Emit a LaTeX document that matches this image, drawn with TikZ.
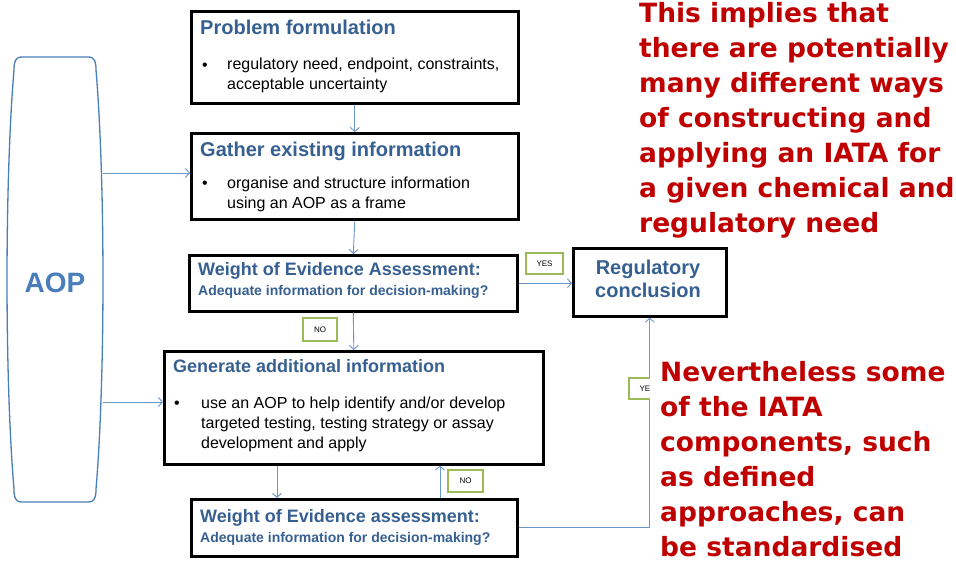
\documentclass[tikz,border=0pt]{standalone}
\usepackage{fontspec}
\setmainfont{Liberation Sans}
\newfontfamily\verd{DejaVu Sans}
\usetikzlibrary{arrows.meta,calc}
\definecolor{tblue}{HTML}{376092}
\definecolor{lblue}{HTML}{4A7EBB}
\definecolor{abl}{HTML}{6C97CC}
\definecolor{grn}{HTML}{9BBB59}
\definecolor{dred}{HTML}{C00000}
\tikzset{
 box/.style={draw=black, line width=2.6pt, fill=white, anchor=north west, inner sep=0},
 ttl/.style={anchor=base west, text=tblue, font=\fontsize{18}{20}\selectfont\bfseries, inner sep=0},
 bigttl/.style={anchor=base west, text=tblue, font=\fontsize{20}{22}\selectfont\bfseries, inner sep=0},
 sub/.style={anchor=base west, text=tblue, font=\fontsize{14}{16}\selectfont\bfseries, inner sep=0},
 bul/.style={anchor=base west, font=\fontsize{16}{20}\selectfont, inner sep=0},
 arr/.style={draw=abl, line width=0.9pt, -{Straight Barb[length=4pt,width=9pt]}},
 lbl/.style={draw=grn, line width=1.5pt, fill=white, font=\fontsize{8}{9}\selectfont, inner sep=0},
 redtxt/.style={text=dred, font=\verd\bfseries\fontsize{26.5}{35}\selectfont, align=left, anchor=north west, inner sep=0},
}
\begin{document}
\begin{tikzpicture}[x=1pt,y=-1pt]
\useasboundingbox[fill=white] (0,0) rectangle (956,569);
% AOP shape
\draw[draw=lblue, line width=1.3pt, fill=white]
  (22,57) -- (88,57) .. controls (95,57) and (96,62) .. (96,70)
  .. controls (105.3,180) and (105.3,380) .. (96,489)
  .. controls (96,497) and (95,502) .. (88,502) -- (22,502)
  .. controls (15,502) and (14,497) .. (14,489)
  .. controls (4.7,380) and (4.7,180) .. (14,70)
  .. controls (14,62) and (15,57) .. (22,57) -- cycle;
\node[text=lblue, font=\fontsize{28}{30}\selectfont\bfseries] (aop) at (55,283) {AOP};
\coordinate (aopA) at (103,173);
\coordinate (aopB) at (103,402);

% boxes
\node[box, minimum width=327pt, minimum height=92pt] (pf) at (190,10) {};
\node[box, minimum width=327pt, minimum height=86pt] (ge) at (190,132) {};
\node[box, minimum width=328pt, minimum height=56pt] (w1) at (188,254) {};
\node[box, minimum width=379pt, minimum height=113pt] (gen) at (163,350) {};
\node[box, minimum width=326pt, minimum height=57pt] (w2) at (190,498) {};
\node[box, minimum width=153pt, minimum height=68pt] (reg) at (572,247) {};

% box texts (multi-line nodes: base = last line)
\node[bigttl] (pft) at (200,35) {Problem formulation};
\node[bul] (pfb) at (202,71) {\textbullet};
\node[bul, align=left] (pfx) at (227,90) {regulatory need, endpoint, constraints,\\acceptable uncertainty};

\node[bigttl] (get) at (200,157) {Gather existing information};
\node[bul] (geb) at (202,189) {\textbullet};
\node[bul, align=left] (gex) at (227,209) {organise and structure information\\using an AOP as a frame};

\node[ttl] (w1t) at (198,276) {Weight of Evidence Assessment:};
\node[sub] (w1s) at (198,296) {Adequate information for decision-making?};

\node[ttl] (gent) at (173,373) {Generate additional information};
\node[bul] (genb) at (174,408) {\textbullet};
\node[bul, align=left] (genx) at (201,448) {use an AOP to help identify and/or develop\\targeted testing, testing strategy or assay\\development and apply};

\node[ttl] (w2t) at (200,522) {Weight of Evidence assessment:};
\node[sub] (w2s) at (200,542) {Adequate information for decision-making?};

\node[text=tblue, font=\fontsize{20}{23}\selectfont\bfseries, align=center, inner sep=0, anchor=base] (regt) at (648,298) {Regulatory\\conclusion};

% connectors
\draw[arr] (pf.south) -- (ge.north);
\draw[arr] (ge.south) -- (w1.north);
\draw[arr] (w1.south) -- (gen.north);
\coordinate (cx1) at (277,0);
\coordinate (cx2) at (440,0);
\draw[arr] (cx1 |- gen.south) -- (cx1 |- w2.north);
\draw[arr] (cx2 |- w2.north) -- (cx2 |- gen.south);
\draw[arr] (w1.east) -- (w1.east -| reg.west);
\draw[arr] (w2.east) -| (reg.south);
\draw[arr] (aopA) -- (aopA -| ge.west);
\draw[arr] (aopB) -- (aopB -| gen.west);

% labels
\node[lbl, minimum width=37pt, minimum height=21pt] (yes1) at (544.5,263.5) {YES};
\node[lbl, minimum width=34pt, minimum height=23pt] (no1) at (320,329.5) {NO};
\node[lbl, minimum width=35pt, minimum height=22pt] (no2) at (465.5,481) {NO};
\node[lbl, minimum width=37pt, minimum height=21pt] (yes2) at (647.5,388.5) {YES};

% red texts
\node[redtxt] (red1) at (639,2) {This implies that\\there are potentially\\many different ways\\of constructing and\\applying an IATA for\\a given chemical and\\regulatory need};
\node[redtxt, fill=white, inner xsep=10pt] (red2) at (650,361) {Nevertheless some\\of the IATA\\components, such\\as defined\\approaches, can\\be standardised};
\end{tikzpicture}
\end{document}
